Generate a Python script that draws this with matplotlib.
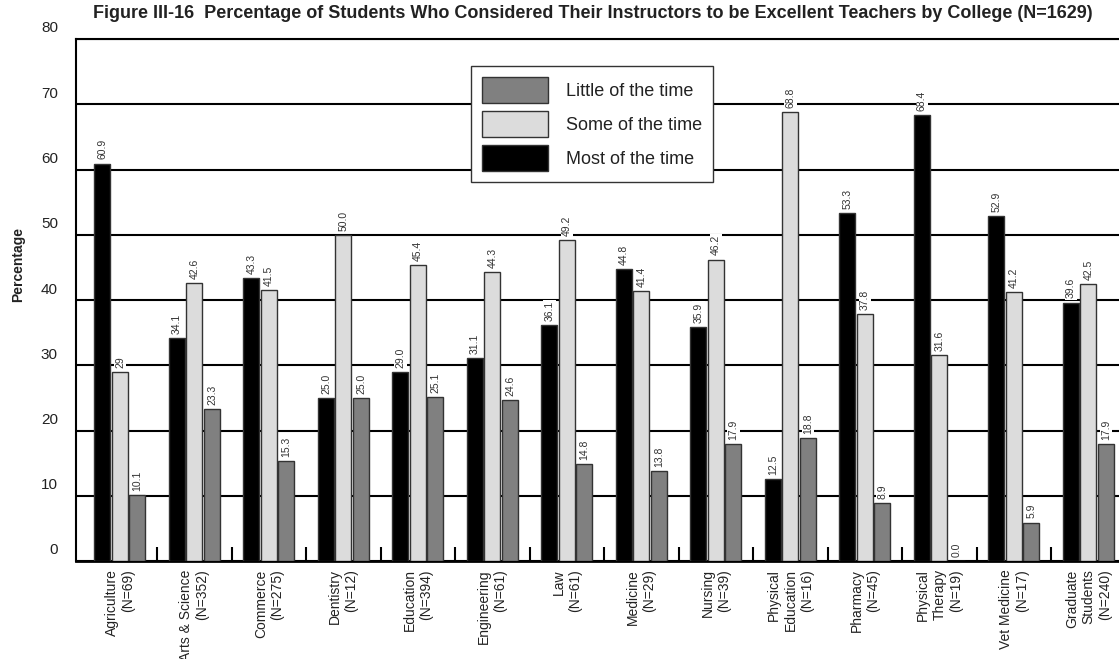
import matplotlib
matplotlib.use('Agg')
import matplotlib.pyplot as plt
import matplotlib.transforms as mtransforms
import numpy as np

plt.rcParams['font.family'] = ['Liberation Sans', 'DejaVu Sans']

colleges = ['Agriculture\n(N=69)', 'Arts & Science\n(N=352)', 'Commerce\n(N=275)',
            'Dentistry\n(N=12)', 'Education\n(N=394)', 'Engineering\n(N=61)',
            'Law\n(N=61)', 'Medicine\n(N=29)', 'Nursing\n(N=39)',
            'Physical\nEducation\n(N=16)', 'Pharmacy\n(N=45)',
            'Physical\nTherapy\n(N=19)', 'Vet Medicine\n(N=17)',
            'Graduate\nStudents\n(N=240)']
most = [60.9, 34.1, 43.3, 25.0, 29.0, 31.1, 36.1, 44.8, 35.9, 12.5, 53.3, 68.4, 52.9, 39.6]
some = [29, 42.6, 41.5, 50.0, 45.4, 44.3, 49.2, 41.4, 46.2, 68.8, 37.8, 31.6, 41.2, 42.5]
little = [10.1, 23.3, 15.3, 25.0, 25.1, 24.6, 14.8, 13.8, 17.9, 18.8, 8.9, 0.0, 5.9, 17.9]
yticks = [0, 10, 20, 30, 40, 50, 60, 70, 80]

fig = plt.figure(figsize=(11.19, 6.59), dpi=100)
ax = fig.add_axes([76 / 1119, 98 / 659, 1 - 76 / 1119, 522 / 659])

x = np.arange(len(colleges))
w = 0.215
series = [(most, -0.235, '#000000', 'Most of the time'),
          (some, 0.0, '#dcdcdc', 'Some of the time'),
          (little, 0.235, '#808080', 'Little of the time')]
handles = {}
for vals, off, col, name in series:
    bars = ax.bar(x + off, vals, w, color=col, edgecolor='#333333', linewidth=1, zorder=3)
    handles[name] = bars
    for xi, v in zip(x + off, vals):
        txt = f'{v:.1f}' if isinstance(v, float) else str(v)
        ax.annotate(txt, (xi, v), xytext=(0, 3), textcoords='offset points',
                    rotation=90, ha='center', va='bottom', fontsize=7.5, color='#333333',
                    bbox=dict(facecolor='white', edgecolor='none', pad=0.8), zorder=4)

ax.set_xlim(-0.59, 13.41)
ax.set_ylim(0, 80)
ax.set_yticks(yticks)
ax.yaxis.grid(True, color='black', linewidth=1.5, zorder=0)
ax.set_axisbelow(True)
ax.tick_params(axis='y', length=0, pad=13, labelsize=11, labelcolor='#222222')
off_y = mtransforms.ScaledTranslation(0, 0.12, fig.dpi_scale_trans)
for lab in ax.get_yticklabels():
    lab.set_transform(lab.get_transform() + off_y)

ax.set_xticks(x)
ax.set_xticklabels(colleges, rotation=90, ha='center', va='top',
                   multialignment='right', fontsize=10, color='#222222')
off_x = mtransforms.ScaledTranslation(-0.06, 0, fig.dpi_scale_trans)
for lab in ax.get_xticklabels():
    lab.set_transform(lab.get_transform() + off_x)
ax.tick_params(axis='x', which='major', length=0, pad=6)
ax.set_xticks(x[:-1] + 0.5, minor=True)
ax.tick_params(axis='x', which='minor', direction='in', length=10, width=1.5, color='black')

ax.spines['right'].set_visible(False)
ax.spines['top'].set_linewidth(1.5)
ax.spines['left'].set_linewidth(1.5)
ax.spines['bottom'].set_linewidth(2)

fig.text(18 / 1119, 1 - 264 / 659, 'Percentage', rotation=90, ha='center', va='center',
         fontsize=10, fontweight='bold', color='#222222')
fig.text(593 / 1119, 1 - 13 / 659,
         'Figure III-16  Percentage of Students Who Considered Their Instructors to be Excellent Teachers by College (N=1629)',
         ha='center', va='center', fontsize=13, fontweight='bold', color='#222222')

order = ['Little of the time', 'Some of the time', 'Most of the time']
leg = ax.legend([handles[n] for n in order], order, loc='upper left',
                bbox_to_anchor=(471 / 1119, 1 - 66 / 659), bbox_transform=fig.transFigure,
                borderaxespad=0, fontsize=13, handlelength=3.65, handleheight=1.83,
                labelspacing=0.45, handletextpad=1.0, borderpad=0.6,
                fancybox=False, framealpha=1, edgecolor='#333333')
leg.get_frame().set_linewidth(1)
for t in leg.get_texts():
    t.set_color('#222222')

fig.savefig('out.png', dpi=100)
